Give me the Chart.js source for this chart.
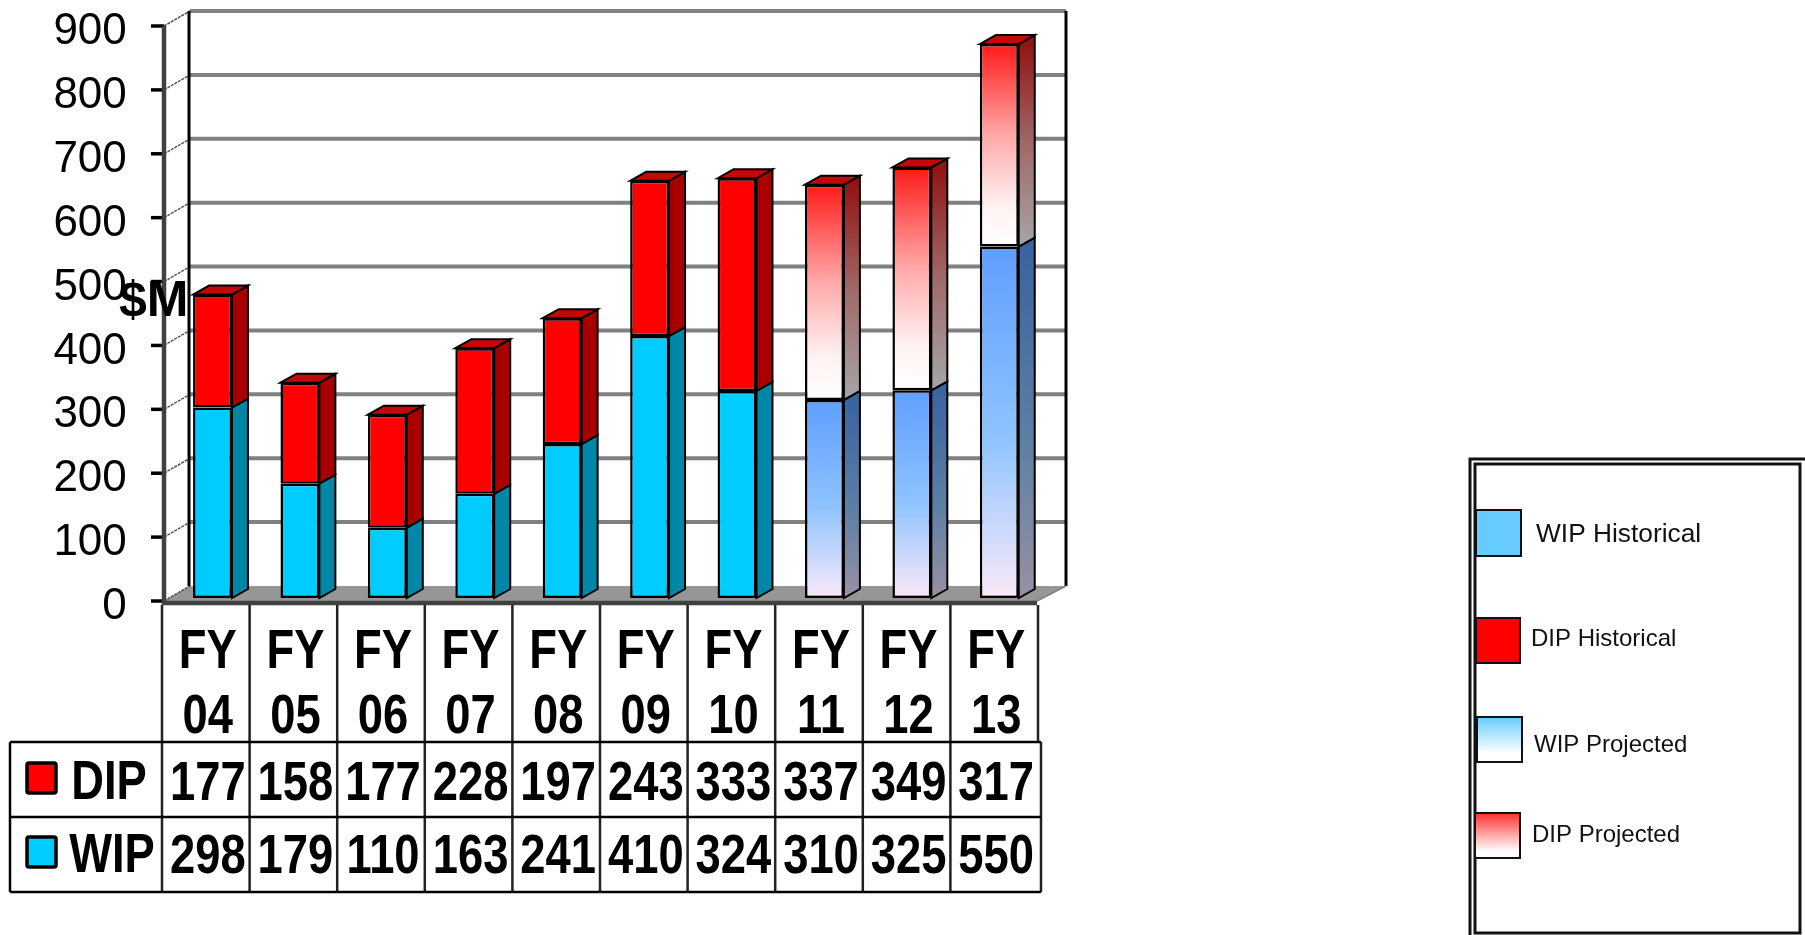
<!DOCTYPE html>
<html>
<head>
<meta charset="utf-8">
<title>WIP and DIP</title>
<script src="https://cdn.jsdelivr.net/npm/chart.js@4"></script>
<style>
  body { margin: 0; background: #fff; }
  canvas { display: block; }
</style>
</head>
<body>
<canvas id="myChart" width="1805" height="935"></canvas>
<script>
const categories = ["FY 04", "FY 05", "FY 06", "FY 07", "FY 08", "FY 09", "FY 10", "FY 11", "FY 12", "FY 13"];
const wipValues = [298, 179, 110, 163, 241, 410, 324, 310, 325, 550];
const dipValues = [177, 158, 177, 228, 197, 243, 333, 337, 349, 317];
const seriesNames = ["WIP", "DIP"];
const legendLabels = ["WIP Historical", "DIP Historical", "WIP Projected", "DIP Projected"];
const firstProjected = 7; // FY 11 onwards are drawn with gradients

const SANS = '"Liberation Sans", Arial, sans-serif';

// depth of the room and of the bars
const WALL_DX = 26, WALL_DY = 15, FRONT_DROP = 3;
const BAR_DX = 16, BAR_DY = 9;

function grad(ctx, y0, y1, stops) {
  const g = ctx.createLinearGradient(0, y0, 0, y1);
  stops.forEach(function (s) { g.addColorStop(s[0], s[1]); });
  return g;
}

const wipFront = [[0, "#5e9eff"], [0.55, "#90c4ff"], [1, "#fbe9f8"]];
const wipSide = [[0, "#3a64a0"], [0.55, "#5c7fa4"], [1, "#9a90a2"]];
const dipFront = [[0, "#ff1a1a"], [0.45, "#ffa8a8"], [0.8, "#fff2f2"], [1, "#ffffff"]];
const dipSide = [[0, "#921414"], [0.5, "#a06a6a"], [1, "#a6a6a6"]];

function frontFill(dsIndex) {
  return function (c) {
    const solid = dsIndex === 0 ? "#00ccff" : "#ff0000";
    if (c.dataIndex < firstProjected) return solid;
    const y = c.chart.scales && c.chart.scales.y;
    if (!y || !c.chart.chartArea) return solid;
    let base = 0;
    if (dsIndex === 1) base = wipValues[c.dataIndex];
    const v = c.dataset.data[c.dataIndex];
    return grad(c.chart.ctx, y.getPixelForValue(base + v), y.getPixelForValue(base), dsIndex === 0 ? wipFront : dipFront);
  };
}

// back walls, floor, axis lines
function drawRoom(chart) {
  const ctx = chart.ctx, y = chart.scales.y;
  const left = 164, right = 1037;
  const y0 = y.getPixelForValue(0) + FRONT_DROP;
  ctx.save();
  ctx.fillStyle = "#969696";
  ctx.beginPath();
  ctx.moveTo(left, y0);
  ctx.lineTo(left + WALL_DX, y0 - WALL_DY);
  ctx.lineTo(right + WALL_DX + 3, y0 - WALL_DY);
  ctx.lineTo(right, y0);
  ctx.closePath();
  ctx.fill();

  y.ticks.forEach(function (t) {
    const py = y.getPixelForValue(t.value) + FRONT_DROP;
    if (t.value > 0) {
      ctx.strokeStyle = "#808080";
      ctx.lineWidth = 4;
      ctx.beginPath();
      ctx.moveTo(left + WALL_DX, py - WALL_DY);
      ctx.lineTo(right + WALL_DX + 3, py - WALL_DY);
      ctx.stroke();
    }
    ctx.strokeStyle = "#555";
    ctx.lineWidth = 1.5;
    ctx.setLineDash([3, 1]);
    ctx.beginPath();
    ctx.moveTo(left, py);
    ctx.lineTo(left + WALL_DX, py - WALL_DY);
    ctx.stroke();
    ctx.setLineDash([]);
    ctx.strokeStyle = "#000";
    ctx.lineWidth = 3.5;
    ctx.beginPath();
    ctx.moveTo(left - 13, py);
    ctx.lineTo(left, py);
    ctx.stroke();
  });

  const yTop = y.getPixelForValue(900) + FRONT_DROP;
  ctx.strokeStyle = "#000";
  ctx.lineWidth = 3;
  ctx.beginPath();
  ctx.moveTo(left + WALL_DX - 1, yTop - WALL_DY);
  ctx.lineTo(left + WALL_DX - 1, y0 - WALL_DY);
  ctx.moveTo(right + WALL_DX + 3, yTop - WALL_DY);
  ctx.lineTo(right + WALL_DX + 3, y0 - WALL_DY);
  ctx.stroke();

  ctx.strokeStyle = "#808080";
  ctx.lineWidth = 1.5;
  ctx.beginPath();
  ctx.moveTo(right, y0);
  ctx.lineTo(right + WALL_DX + 3, y0 - WALL_DY);
  ctx.stroke();

  ctx.strokeStyle = "#404040";
  ctx.lineWidth = 4.5;
  ctx.beginPath();
  ctx.moveTo(left, yTop);
  ctx.lineTo(left, y0 + 2);
  ctx.lineTo(right, y0 + 2);
  ctx.stroke();
  ctx.restore();
}

// side and top faces, taken from the bar elements chart.js laid out
function drawBarDepth(chart) {
  const ctx = chart.ctx;
  ctx.save();
  ctx.strokeStyle = "#000";
  ctx.lineWidth = 2;
  chart.getDatasetMeta(0).data.forEach(function (el, i) {
    const dip = chart.getDatasetMeta(1).data[i];
    const half = el.width / 2;
    const x1 = el.x - half, x2 = el.x + half;
    const projected = i >= firstProjected;

    [[el, "#0087a8", wipSide], [dip, "#a80000", dipSide]].forEach(function (p) {
      const b = p[0];
      ctx.fillStyle = projected ? grad(ctx, b.y, b.base, p[2]) : p[1];
      ctx.beginPath();
      ctx.moveTo(x2, b.y);
      ctx.lineTo(x2 + BAR_DX, b.y - BAR_DY);
      ctx.lineTo(x2 + BAR_DX, b.base - BAR_DY);
      ctx.lineTo(x2, b.base);
      ctx.closePath();
      ctx.fill();
      ctx.stroke();
    });

    ctx.fillStyle = "#c40808";
    ctx.beginPath();
    ctx.moveTo(x1, dip.y);
    ctx.lineTo(x1 + BAR_DX, dip.y - BAR_DY);
    ctx.lineTo(x2 + BAR_DX, dip.y - BAR_DY);
    ctx.lineTo(x2, dip.y);
    ctx.closePath();
    ctx.fill();
    ctx.stroke();
  });
  ctx.restore();
}

// no narrow face is installed, so squeeze the bold one sideways
function narrowText(ctx, text, x, y) {
  ctx.save();
  ctx.translate(x, y);
  ctx.scale(0.81, 1);
  ctx.fillText(text, 0, 0);
  ctx.restore();
}

function drawTable(chart) {
  const ctx = chart.ctx;
  const colLeft = 162, colStep = 87.6, rowLeft = 10, right = 1041;
  const headTop = chart.scales.y.getPixelForValue(0) + FRONT_DROP + 4;
  const rows = [742, 817, 892];
  const n = categories.length;
  ctx.save();

  ctx.strokeStyle = "#222";
  ctx.lineWidth = 2.5;
  ctx.beginPath();
  for (let i = 0; i <= n; i++) {
    const x = colLeft + i * colStep;
    ctx.moveTo(x, headTop);
    ctx.lineTo(x, i === n ? rows[0] : rows[2]);
  }
  ctx.moveTo(right, rows[0]);
  ctx.lineTo(right, rows[2]);
  ctx.stroke();

  ctx.strokeStyle = "#000";
  ctx.lineWidth = 2.5;
  ctx.beginPath();
  rows.forEach(function (ry) {
    ctx.moveTo(rowLeft, ry);
    ctx.lineTo(right, ry);
  });
  ctx.moveTo(rowLeft, rows[0]);
  ctx.lineTo(rowLeft, rows[2]);
  ctx.stroke();

  ctx.fillStyle = "#000";
  ctx.textAlign = "center";
  ctx.textBaseline = "middle";
  ctx.font = "bold 56px " + SANS;
  categories.forEach(function (c, i) {
    const parts = c.split(" ");
    const x = colLeft + (i + 0.5) * colStep + 2;
    narrowText(ctx, parts[0], x, 653);
    narrowText(ctx, parts[1], x, 718);
    narrowText(ctx, dipValues[i], x, 785);
    narrowText(ctx, wipValues[i], x, 858);
  });

  // row headers with their small keys
  [[seriesNames[1], "#ff0000", 763, 109, 784], [seriesNames[0], "#00ccff", 837, 112, 857]].forEach(function (r) {
    ctx.fillStyle = r[1];
    ctx.strokeStyle = "#000";
    ctx.lineWidth = 3.5;
    ctx.beginPath();
    ctx.roundRect(27, r[2], 29, 30, 2);
    ctx.fill();
    ctx.stroke();
    ctx.fillStyle = "#000";
    narrowText(ctx, r[0], r[3], r[4]);
  });
  ctx.restore();
}

function drawLegendBox(chart) {
  const ctx = chart.ctx;
  ctx.save();
  ctx.strokeStyle = "#111";
  ctx.lineWidth = 3;
  ctx.strokeRect(1470, 459, 340, 490);
  ctx.strokeRect(1475, 464, 325, 469);

  const keys = [
    { x: 1476, y: 510, w: 45, h: 46, tx: 1536, ty: 535, size: 26.3 },
    { x: 1476, y: 618, w: 44, h: 45, tx: 1531, ty: 639, size: 24 },
    { x: 1477, y: 717, w: 45, h: 45, tx: 1534, ty: 745, size: 24 },
    { x: 1475, y: 813, w: 45, h: 45, tx: 1532, ty: 835, size: 24 }
  ];
  const fills = [
    "#66ccff",
    "#ff0000",
    grad(ctx, keys[2].y, keys[2].y + keys[2].h, [[0, "#66ccff"], [0.8, "#ffffff"], [1, "#ffffff"]]),
    grad(ctx, keys[3].y, keys[3].y + keys[3].h, [[0, "#ff3030"], [0.85, "#ffffff"], [1, "#ffffff"]])
  ];
  keys.forEach(function (k, i) {
    ctx.fillStyle = fills[i];
    ctx.strokeStyle = "#111";
    ctx.lineWidth = 2;
    ctx.fillRect(k.x, k.y, k.w, k.h);
    ctx.strokeRect(k.x, k.y, k.w, k.h);
    ctx.fillStyle = "#111";
    ctx.textAlign = "left";
    ctx.textBaseline = "middle";
    ctx.font = k.size + "px " + SANS;
    ctx.fillText(legendLabels[i], k.tx, k.ty);
  });
  ctx.restore();
}

const extras = {
  id: "extras",
  beforeDatasetsDraw: function (chart) {
    drawRoom(chart);
    drawBarDepth(chart);
  },
  afterDraw: function (chart) {
    const ctx = chart.ctx;
    ctx.save();
    ctx.fillStyle = "#000";
    ctx.font = "bold 50px " + SANS;
    ctx.textAlign = "left";
    ctx.textBaseline = "middle";
    ctx.fillText("$M", 119, 302);
    ctx.restore();
    drawTable(chart);
    drawLegendBox(chart);
  }
};

new Chart(document.getElementById("myChart"), {
  type: "bar",
  data: {
    labels: categories,
    datasets: [
      { label: seriesNames[0], data: wipValues, backgroundColor: frontFill(0), borderColor: "#000", borderWidth: 2.5, borderSkipped: false },
      { label: seriesNames[1], data: dipValues, backgroundColor: frontFill(1), borderColor: "#000", borderWidth: 2.5, borderSkipped: false }
    ]
  },
  options: {
    responsive: false,
    animation: false,
    layout: { padding: { top: 23, right: 762, bottom: 337, left: 0 } },
    datasets: { bar: { barPercentage: 0.445, categoryPercentage: 1 } },
    plugins: { legend: { display: false }, tooltip: { enabled: false } },
    scales: {
      x: { stacked: true, display: false },
      y: {
        stacked: true,
        min: 0,
        max: 900,
        afterFit: function (scale) {
          scale.width = 168.8;
          scale.paddingTop = 0;
          scale.paddingBottom = 0;
        },
        border: { display: false },
        grid: { display: false, drawTicks: false },
        ticks: {
          stepSize: 100,
          padding: 42,
          labelOffset: 9,
          color: "#000",
          font: { family: SANS, size: 44 }
        }
      }
    }
  },
  plugins: [extras]
});
</script>
</body>
</html>
